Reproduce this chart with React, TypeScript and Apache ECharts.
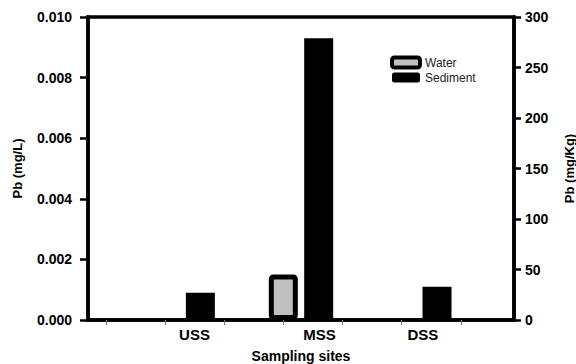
import React, { useEffect, useRef } from "react";
import * as echarts from "echarts";

const categories = ["USS", "MSS", "DSS"];
const waterValues: (number | null)[] = [null, 0.0015, null];
const sedimentValues: number[] = [27, 279, 33];
const leftTicks = { min: 0, max: 0.01, interval: 0.002 };
const rightTicks = { min: 0, max: 300, interval: 50 };

// layout of the category axis (group centres at 1, 2, 3)
const labelShift = [0.1, 0.157, 0.03];
const minorTickStart = 0.35;
const minorTickStep = 0.5;
const minorTickCount = 7;

const FONT = "'Liberation Sans', Arial, Helvetica, sans-serif";

export default function App() {
  const ref = useRef<HTMLDivElement>(null);

  useEffect(() => {
    if (!ref.current) return;
    const chart = echarts.init(ref.current, undefined, { renderer: "svg" });

    const positions = categories.map((_, i) => i + 1);
    const labelPositions = positions.map((p, i) => p + labelShift[i]);
    const tickPositions: number[] = [];
    for (let k = 0; k < minorTickCount; k++) tickPositions.push(minorTickStart + k * minorTickStep);

    const labelName = (v: number) => {
      let best = 0;
      let bd = Infinity;
      labelPositions.forEach((p, i) => {
        const d = Math.abs(p - v);
        if (d < bd) {
          bd = d;
          best = i;
        }
      });
      return categories[best];
    };

    const axisLine = { show: true, onZero: false, lineStyle: { color: "#000", width: 3.5 } };

    chart.setOption({
      animation: false,
      backgroundColor: "#fff",
      grid: {
        left: 88,
        right: 62,
        top: 17,
        bottom: 44,
        outerBoundsMode: "none",
        containLabel: false,
        show: true,
        borderColor: "#000",
        borderWidth: 3.5,
        backgroundColor: "transparent",
      },
      legend: {
        orient: "vertical",
        left: 385,
        top: 50,
        itemWidth: 28,
        itemHeight: 10,
        itemGap: 0,
        selectedMode: false,
        textStyle: { fontFamily: FONT, fontSize: 12, color: "#222", lineHeight: 15 },
        data: [
          { name: "Water", itemStyle: { borderWidth: 4, borderColor: "#000" } },
          { name: "Sediment", itemStyle: { borderWidth: 0 } },
        ],
      },
      xAxis: {
        type: "value",
        min: 0.2,
        max: 3.8,
        name: "Sampling sites",
        nameLocation: "middle",
        nameGap: 29,
        nameTextStyle: { fontFamily: FONT, fontSize: 14, fontWeight: "bold", color: "#000" },
        axisLine,
        axisTick: {
          show: true,
          customValues: tickPositions,
          length: 5,
          lineStyle: { color: "#777", width: 1 },
        },
        axisLabel: {
          customValues: labelPositions,
          formatter: (v: number) => labelName(v),
          margin: 7,
          fontFamily: FONT,
          fontSize: 15,
          fontWeight: "bold",
          color: "#000",
        },
        splitLine: { show: false },
      },
      yAxis: [
        {
          type: "value",
          position: "left",
          min: leftTicks.min,
          max: leftTicks.max,
          interval: leftTicks.interval,
          name: "Pb (mg/L)",
          nameLocation: "middle",
          nameRotate: 90,
          nameGap: 64,
          nameTextStyle: { fontFamily: FONT, fontSize: 13, fontWeight: "bold", color: "#000" },
          axisLine,
          axisTick: { show: true, inside: false, length: 8, lineStyle: { color: "#000", width: 2.5 } },
          axisLabel: {
            formatter: (v: number) => v.toFixed(3),
            margin: 16,
            fontFamily: FONT,
            fontSize: 14,
            fontWeight: "bold",
            color: "#000",
          },
          splitLine: { show: false },
        },
        {
          type: "value",
          position: "right",
          min: rightTicks.min,
          max: rightTicks.max,
          interval: rightTicks.interval,
          name: "Pb (mg/Kg)",
          nameLocation: "middle",
          nameRotate: 90,
          nameGap: 49,
          nameTextStyle: { fontFamily: FONT, fontSize: 13, fontWeight: "bold", color: "#000" },
          axisLine,
          axisTick: { show: true, inside: false, length: 7, lineStyle: { color: "#000", width: 2.5 } },
          axisLabel: {
            margin: 11,
            fontFamily: FONT,
            fontSize: 14,
            fontWeight: "bold",
            color: "#000",
          },
          splitLine: { show: false },
        },
      ],
      series: [
        {
          name: "Water",
          type: "bar",
          yAxisIndex: 0,
          barWidth: 29,
          barGap: "22%",
          itemStyle: { color: "#c0c0c0", borderColor: "#000", borderWidth: 5, borderRadius: 2 },
          data: positions.map((p, i) => [p, waterValues[i]]),
        },
        {
          name: "Sediment",
          type: "bar",
          yAxisIndex: 1,
          barWidth: 29,
          barGap: "22%",
          itemStyle: { color: "#000" },
          data: positions.map((p, i) => [p, sedimentValues[i]]),
        },
      ],
    });

    return () => chart.dispose();
  }, []);

  return (
    <div
      ref={ref}
      style={{ position: "fixed", left: 0, top: 0, width: 576, height: 364, background: "#fff" }}
    />
  );
}
